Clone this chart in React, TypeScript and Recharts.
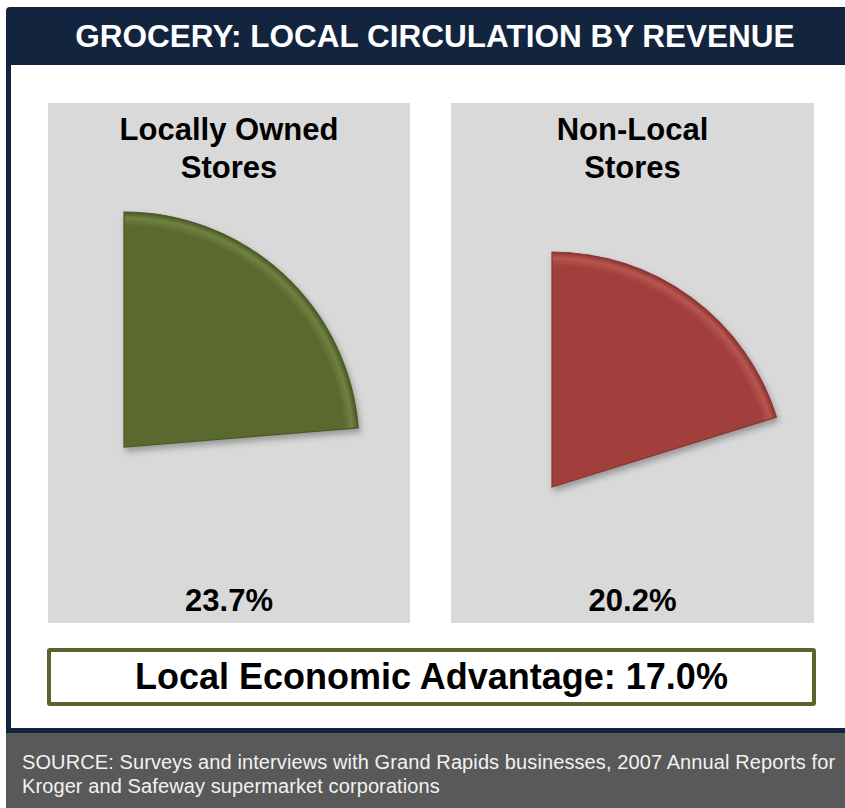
import { PieChart, Pie, Cell } from 'recharts'

const storeTypes = ['Locally Owned', 'Non-Local']
const circulationShares = [23.7, 20.2]
const localAdvantage = 17.0
const chartTitle = 'GROCERY: LOCAL CIRCULATION BY REVENUE'
const sourceLines = [
  'SOURCE: Surveys and interviews with Grand Rapids businesses, 2007 Annual Reports for',
  'Kroger and Safeway supermarket corporations',
]

const NAVY = '#13243f'
const PANEL = '#d9d9d9'
const sliceColors = ['#5a6a2f', '#a03f3b']
const sliceLight = ['#6f8240', '#b9554f']
const sliceDark = ['#4a5824', '#8a3330']
const FONT = '"Liberation Sans", Arial, sans-serif'

// panel boxes + pie centre inside each panel (px)
const panels = [
  { left: 48, width: 362, cx: 76, cy: 344 },
  { left: 451, width: 363, cx: 101, cy: 384 },
]
const RADIUS = 235

// gradients live in a hidden svg, referenced by id from the pie charts
function BevelDefs() {
  return (
    <svg width={0} height={0} style={{ position: 'absolute' }}>
      <defs>
        {panels.map((p, i) => (
          <radialGradient key={i} id={`bevel-${i}`} gradientUnits="userSpaceOnUse" cx={p.cx} cy={p.cy} r={RADIUS}>
            <stop offset="0%" stopColor={sliceColors[i]} />
            <stop offset="94%" stopColor={sliceColors[i]} />
            <stop offset="97.5%" stopColor={sliceLight[i]} />
            <stop offset="100%" stopColor={sliceDark[i]} />
          </radialGradient>
        ))}
      </defs>
    </svg>
  )
}

function SharePanel({ idx }: { idx: number }) {
  const share = circulationShares[idx]
  const p = panels[idx]
  const data = [
    { name: storeTypes[idx], value: share },
    { name: 'rest', value: 100 - share },
  ]
  return (
    <div style={{ position: 'absolute', left: p.left, top: 103, width: p.width, height: 520, background: PANEL }}>
      <div style={{ position: 'absolute', left: 0, top: 0, filter: 'drop-shadow(2px 4px 3px rgba(0,0,0,0.3))' }}>
        <PieChart width={p.width} height={520} margin={{ top: 0, right: 0, bottom: 0, left: 0 }}>
          <Pie
            data={data}
            dataKey="value"
            cx={p.cx}
            cy={p.cy}
            innerRadius={0}
            outerRadius={RADIUS}
            startAngle={90}
            endAngle={-270}
            isAnimationActive={false}
          >
            <Cell fill={`url(#bevel-${idx})`} stroke={sliceDark[idx]} strokeWidth={1.2} />
            <Cell fill="none" stroke="none" />
          </Pie>
        </PieChart>
      </div>
      <div
        style={{
          position: 'absolute', left: 0, top: 8, width: '100%', textAlign: 'center',
          fontFamily: FONT, fontWeight: 700, fontSize: 31, lineHeight: '38px', color: '#000',
        }}
      >
        {storeTypes[idx]}
        <br />
        Stores
      </div>
      <div
        style={{
          position: 'absolute', left: 0, top: 479, width: '100%', textAlign: 'center',
          fontFamily: FONT, fontWeight: 700, fontSize: 31, lineHeight: '38px', color: '#000',
        }}
      >
        {share.toFixed(1)}%
      </div>
    </div>
  )
}

export default function App() {
  return (
    <div style={{ position: 'absolute', left: 0, top: 0, width: 845, height: 808, background: '#fff', overflow: 'hidden' }}>
      <BevelDefs />
      {/* navy frame */}
      <div style={{ position: 'absolute', left: 6, top: 7, width: 839, height: 726, background: NAVY, borderTopLeftRadius: 4 }} />
      <div style={{ position: 'absolute', left: 11, top: 65, width: 834, height: 663, background: '#fff' }} />
      <div
        style={{
          position: 'absolute', left: 20, top: 7, width: 830, height: 58, lineHeight: '58px', textAlign: 'center',
          fontFamily: FONT, fontWeight: 700, fontSize: 31.5, color: '#fff', letterSpacing: 0,
          whiteSpace: 'nowrap',
        }}
      >
        {chartTitle}
      </div>

      <SharePanel idx={0} />
      <SharePanel idx={1} />

      <div
        style={{
          position: 'absolute', left: 47, top: 648, width: 769, height: 58, boxSizing: 'border-box',
          border: '4px solid #56662c', borderRadius: 3, background: '#fff', textAlign: 'center',
          fontFamily: FONT, fontWeight: 700, fontSize: 36, lineHeight: '50px', color: '#000',
        }}
      >
        Local Economic Advantage: {localAdvantage.toFixed(1)}%
      </div>

      {/* footer */}
      <div style={{ position: 'absolute', left: 6, top: 733, width: 839, height: 75, background: '#595959' }} />
      <div
        style={{
          position: 'absolute', left: 22, top: 750, width: 823, fontFamily: FONT, fontSize: 20,
          lineHeight: '24px', color: '#f2f2f2', letterSpacing: 0.1, whiteSpace: 'nowrap',
        }}
      >
        {sourceLines.map((line) => (
          <div key={line}>{line}</div>
        ))}
      </div>
    </div>
  )
}
